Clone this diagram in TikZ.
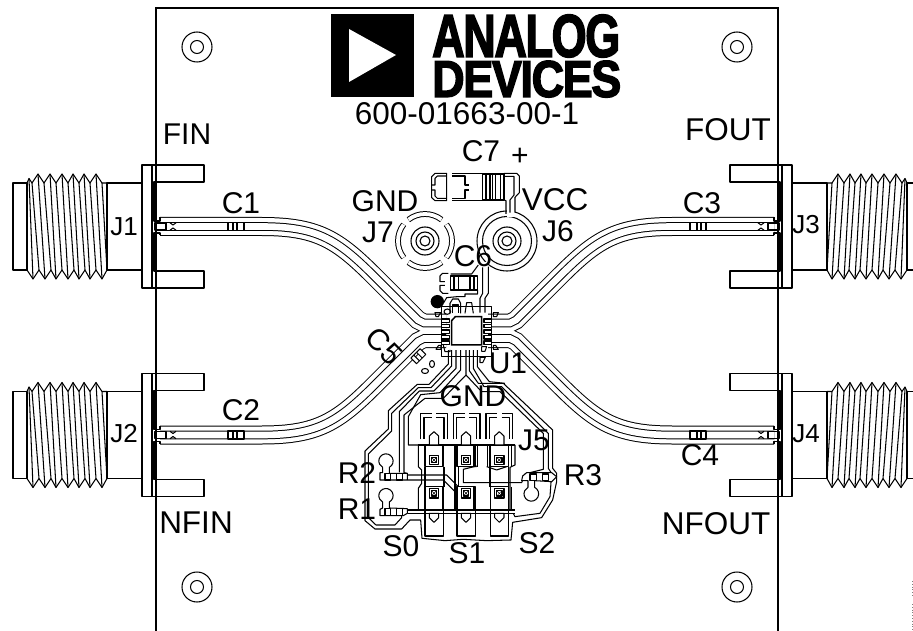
\documentclass[tikz,border=0pt]{standalone}
\usepackage{graphicx}
\usepackage{fontspec}
\usetikzlibrary{calc}
\setmainfont{Liberation Sans}
\newfontfamily\logofont[BoldFont={Liberation Sans Bold},BoldFeatures={FakeBold=3,LetterSpace=-3}]{Liberation Sans}
\tikzset{
  ln/.style={line width=1.05pt,black,line join=round},
  padln/.style={line width=1.6pt,black,line join=round},
  edgeln/.style={line width=1.3pt,black},
  lab/.style={font=\fontsize{30}{30}\selectfont,inner sep=0pt,black},
  labw/.style={font=\fontsize{31.5}{32}\selectfont,inner sep=0pt,black},
  labj/.style={font=\fontsize{26}{26}\selectfont,inner sep=0pt,black},
  zone/.style={x=0.3333pt,y=-0.3333pt},
}
\newcommand{\coax}{%
  \draw[ln] (13,-43.5) rectangle (27,43.5);
  \draw[ln] (107,-43.5) rectangle (142,43.5);
  \draw[ln] (27,-43.5)--(29,-48)--(32,-43.5)--(38,-52.5)--(44,-43.5)--(50,-52.5)--(56,-43.5)--(62,-52.5)--(68,-43.5)--(73,-52.5)--(79,-43.5)--(84,-52.5)--(90,-43.5)--(96,-52.5)--(102,-43.5)--(107,-43.5);
  \draw[ln] (27,43.5)--(33,52.5)--(39,43.5)--(45,52.5)--(51,43.5)--(56,52.5)--(62,43.5)--(68,52.5)--(74,43.5)--(79,52.5)--(85,43.5)--(90,52.5)--(96,43.5)--(102,52.5)--(107,43.5);
  \foreach \a/\b/\c/\d in {38/45/32/39,50/56/44/51,62/68/56/62,73/79/68/74,84/90/79/85,96/102/90/96}{
    \draw[ln] (\a,-52.5)--(\b,52.5);
    \draw[ln] (\c,-43.5)--(\d,43.5);
  }
  \draw[ln] (29,-48)--(33,52.5);
  \draw[ln] (102,-43.5)--(107,43.5);
  \draw[ln] (142,-61.5) rectangle (152,61.5);
  \draw[ln] (152,-61.5)--(204,-61.5)--(204,-44.5)--(154,-44.5)--(154,-5.5)--(160,-5.5)--(160,-9);
  \draw[ln] (152,61.5)--(204,61.5)--(204,44.5)--(154,44.5)--(154,6.5)--(160,6.5)--(160,9);
  \draw[ln] (155,-3.5) rectangle (166,3.5);
  \draw[ln] (228,-4) rectangle (233,4);
  \draw[ln] (237,-4) rectangle (244,4);
  \draw[ln] (233,-4)--(237,-4) (233,4)--(237,4);
  \draw[ln] (170,-3.7)--(173,-1.5)--(176,-3.7) (170,3.7)--(173,1.5)--(176,3.7);
}
\newcommand{\rfpath}[1]{%
  \draw[#1] (160,226.5)--(262,226.5) .. controls (318,226.5) and (338,240) .. (375,277)--(418,320)--(424,323)--(446,323);
  \draw[#1] (160,435)--(262,435) .. controls (318,435) and (338,421.5) .. (375,384.5)--(418,341.5)--(424,338.5)--(446,338.5);
  \draw[#1] (774,226.5)--(672,226.5) .. controls (616,226.5) and (596,240) .. (559,277)--(516,320)--(510,323)--(488,323);
  \draw[#1] (774,435)--(672,435) .. controls (616,435) and (596,421.5) .. (559,384.5)--(516,341.5)--(510,338.5)--(488,338.5);
}
\begin{document}
\begin{tikzpicture}[x=1pt,y=-1pt]
\useasboundingbox (0,0) rectangle (913,631);
\clip (0,0) rectangle (913,631);
% board
\draw[edgeln] (156,631)--(156,8)--(778,8)--(778,631);
% RF traces
\rfpath{line width=19pt,black}
\rfpath{line width=17pt,white}
\rfpath{line width=8.6pt,black}
\rfpath{line width=6.6pt,white}
% connectors
\begin{scope}[shift={(0,226.5)}]\coax\end{scope}
\begin{scope}[shift={(0,435)}]\coax\end{scope}
\begin{scope}[shift={(934,226.5)},xscale=-1]\coax\end{scope}
\begin{scope}[shift={(934,435)},xscale=-1]\coax\end{scope}
% mounting holes
\foreach \n/\x/\y in {ha/197/47,hb/737/47,hc/197/587,hd/737/587}{
  \coordinate (\n) at (\x,\y);
  \draw[ln] (\n) circle (15pt) (\n) circle (6.5pt);
}
% logo
\fill[black] (331,14) rectangle (414,97);
\fill[white] (349,29)--(396,55)--(349,82)--cycle;
\node[anchor=south west,inner sep=0pt] (logoa) at (432,57.5) {\resizebox{188pt}{42pt}{\logofont\bfseries ANALOG}};
\node[anchor=south west,inner sep=0pt] (logob) at (432,97.5) {\resizebox{189pt}{36pt}{\logofont\bfseries DEVICES}};
% J7 / J6
\coordinate (j7) at (425,241);
\coordinate (j6) at (507,241);
\foreach \a in {0,90,180,270}{
  \draw[line width=5.8pt,black] ($(j7)+(\a-38:27)$) arc[start angle=\a-38,end angle=\a+38,radius=27];
  \draw[line width=3.8pt,white] ($(j7)+(\a-37.5:27)$) arc[start angle=\a-37.5,end angle=\a+37.5,radius=27];
}
\draw[ln] (j6) circle (30pt) (j6) circle (24.5pt);
\foreach \c in {j6,j7}{\draw[line width=1.1pt] (\c) circle (14pt) (\c) circle (9pt) (\c) circle (5pt);}
% upper zone
\begin{scope}[shift={(330,130)},zone]
  \fill[white] (531,205) rectangle (554,262);
  \fill[white] (459,395) rectangle (474,425);
  \draw[ln] (350,130)--(315,130)--(305,140)--(305,203)--(315,212)--(350,212)--cycle;
  \draw[ln] (350,138)--(322,138)--(315,145)--(315,165)--(305,165);
  \draw[ln] (305,180)--(315,180)--(315,198)--(322,205)--(350,205);
  \draw[ln] (367,130)--(410,130) (367,138)--(405,138)--(405,165)--(417,165);
  \draw[ln] (367,212)--(410,212) (367,205)--(405,205)--(405,180)--(417,180);
  \draw[ln] (410,130)--(458,130) (410,212)--(458,212);
  \draw[ln] (458,132)rectangle(522,210);
  \foreach \x in {468,480,488,497,512}{\draw[ln] (\x,132)--(\x,210);}
  \draw[ln] (522,130)--(560,130)--(568,138)--(568,188)--(555,202)--(555,248);
  \draw[ln] (522,139)--(552,139)--(552,195)--(540,210)--(540,248);
  \draw[ln] (522,210)--(528,212)--(528,252);
  % C6
  \draw[ln] (355,430)--(338,430)--(330,438)--(330,455)--(345,455);
  \draw[ln] (345,466)--(330,466)--(330,482)--(338,490)--(355,490);
  \draw[ln] (362,438) rectangle (443,480);
  \foreach \x in {372,385,420,432}{\draw[ln] (\x,438)--(\x,480);}
  \draw[ln] (362,432)--(425,432)--(445,405);
  \draw[ln] (443,480)--(443,492)--(405,492)--(405,500)--(382,500)--(350,503)--(340,520);
  \draw[ln] (458,412)--(458,490)--(450,505)--(450,548);
  \draw[ln] (475,410)--(475,490)--(465,505)--(465,548);
  % dot
  \fill[black] (322,515) circle (20);
  % IC
  \draw[ln] (335,530) rectangle (485,680);
  \draw[line width=1.5pt] (365,572)--(376,560)--(455,560)--(455,645)--(365,645)--cycle;
  \foreach \y in {572,588,605,622,638}{
    \draw[ln,fill=white] (335,\y-5) rectangle (358,\y+5);
    \draw[ln,fill=white] (462,\y-5) rectangle (485,\y+5);
  }
  \draw[ln] (360,550)--(360,520)--(368,507)--(385,507)--(392,520)--(392,550);
  \draw[ln] (368,550)--(368,525)--(385,525)--(385,550);
  \draw[ln] (405,550)--(410,518)--(425,518)--(430,550);
  \draw[ln] (352,545) ellipse (10 and 8);
  \draw[ln] (315,548)--(332,548)--(325,560)--(318,560)--cycle;
  \draw[ln] (490,548)--(505,548)--(500,560)--(490,560)--cycle;
  \draw[ln] (318,658)--(333,658)--(333,646)--(326,646)--cycle;
  \draw[ln] (490,646)--(497,646)--(505,658)--(490,658)--cycle;
  \draw[ln] (455,650)--(470,650)--(465,664)--(455,664)--cycle;
  \draw[ln] (450,682)--(466,682)--(458,698)--(450,698)--cycle;
  \draw[ln] (340,645)--(345,665)--(360,665)--(360,660);
\end{scope}
% lower zone
\begin{scope}[shift={(330,350)},zone]
  \draw[ln] (355,0)--(355,42)--(297,103)--(262,103)--(175,182)--(175,237)--(105,303)--(105,512)--(135,537)--(215,537)--(240,510)--(272,510)--(276,565)--(345,572)--(400,568)--(470,572)--(543,570)--(548,517)--(635,503)--(668,450)--(680,395)--(680,370)--(668,355)--(668,240)--(520,100)--(445,100)--(418,62)--(418,0);
  \draw[ln] (365,0)--(365,48)--(303,113)--(265,113)--(185,190)--(185,243)--(115,312)--(115,503)--(138,525)--(195,525)--(215,503)--(215,497);
  \draw[ln] (378,0)--(378,55)--(312,123)--(268,123)--(208,185)--(208,367);
  \draw[ln] (392,0)--(392,60)--(330,128)--(272,134)--(235,200)--(235,285)--(265,285);
  \draw[ln] (408,0)--(408,75)--(340,145)--(285,145)--(222,195)--(222,368)--(232,370);
  \draw[ln] (408,75)--(455,125)--(510,125)--(640,250)--(640,358)--(600,368)--(585,372)--(575,398)--(400,398)--(400,358)--(440,348);
  \draw[ln] (430,0)--(430,55)--(462,110)--(515,110)--(655,250)--(655,355)--(665,370)--(660,440)--(630,490)--(555,500)--(550,490);
  \draw[ln] (442,0)--(442,50)--(478,95)--(525,100);
  \foreach \a/\b/\c/\d in {272/305/318/352,370/405/418/450,468/500/515/548}{
    \draw[ln] (\a,268)--(\a,190)--(\b,190) (\b,202)--({\a+10},202)--({\a+10},268);
    \draw[ln] (\d,268)--(\d,190)--(\c,190) (\c,202)--({\d-10},202)--({\d-10},268);
  }
  \draw[ln] (265,285)--(555,285);
  \draw[ln] (265,285)--(265,350)--(275,360)--(275,400)--(265,415)--(265,480);
  \draw[ln] (235,480)--(555,480) (235,490)--(555,490);
  \draw[ln] (232,375)--(350,375)--(385,410);
  \draw[ln] (232,390)--(340,390)--(375,425);
  \draw[ln] (345,285)--(375,285)--(375,480);
  \draw[ln] (555,285)--(555,345)--(540,352)--(540,480);
  \foreach \x in {312,408,508}{
    \draw[padln] (\x-27,285)--(\x-27,350)--(\x+27,350)--(\x+27,285);
    \draw[padln] (\x-27,480)--(\x-27,410)--(\x+27,410)--(\x+27,480);
    \draw[ln,fill=white] (\x-14,285)--(\x-14,258)--(\x,245)--(\x+14,258)--(\x+14,285)--cycle;
    \draw[ln] (\x-27,480)--(\x-27,558)--(\x+28,558)--(\x+28,480);
    \draw[ln,fill=white] (\x-14,490)--(\x-14,503)--(\x,517)--(\x+14,503)--(\x+14,490)--cycle;
    \foreach \y in {330,430}{
      \draw[ln] (\x-14,\y-14) rectangle (\x+14,\y+14);
      \draw[ln,fill=white] (\x-8,\y-8) rectangle (\x+8,\y+8);
      \draw[line width=0.5pt] (\x-8,\y-8)--(\x+8,\y+8) (\x+8,\y-8)--(\x-8,\y+8);
    }
  }
  \foreach \x in {432,442,472,480,545}{\draw[ln] (\x,285)--(\x,350);}
  \draw[ln] (432,410)--(432,480) (535,410)--(535,480) (545,410)--(545,480);
  \draw[ln] (400,350)--(440,350) (470,350)--(500,360)--(530,350);
  \draw[ln] (285,350)--(285,410) (342,350)--(342,410);
  \draw[ln] (385,350)--(385,410) (480,350)--(480,410) (535,350)--(535,410);
  \draw[ln,fill=white] (158,352)--(158,368)--(150,368)--(150,390)--(232,390)--(232,370)--(178,370)--(178,352) arc[start angle=62,end angle=-242,radius=21.5];
  \draw[ln,fill=white] (158,456)--(158,474)--(150,478)--(150,497)--(220,497)--(232,490)--(232,476)--(178,474)--(178,456) arc[start angle=62,end angle=-242,radius=21.5];
  \foreach \y in {370,476}{
    \draw[ln] (165,\y) rectangle (182,\y+20);
    \draw[ln] (200,\y) rectangle (218,\y+20);
  }
  \draw[ln,fill=white] (594,412)--(594,392)--(575,392)--(578,378)--(590,368)--(665,368)--(680,380)--(665,395)--(614,392)--(614,412) arc[start angle=-63,end angle=243,radius=22];
  \draw[ln] (600,372) rectangle (620,392) (637,372) rectangle (655,392);
\end{scope}
% C5
\begin{scope}[shift={(418,358)},rotate=45]
  \draw[ln,fill=white] (-5,-5) rectangle (-1,3);
  \draw[ln,fill=white] (3,-5) rectangle (8,3);
  \draw[ln] (-1,-5)--(3,-5) (-1,3)--(3,3);
\end{scope}
\draw[ln] (432,364) ellipse (2.5pt and 3.5pt);
\draw[ln] (425,371) ellipse (3.5pt and 2.5pt);
% labels
\node[labw] (tcode) at (467,114) {600-01663-00-1};
\node[lab] (tfin) at (187,134) {FIN};
\node[labw] (tfout) at (728,130) {FOUT};
\node[labw] (tnfin) at (196,523) {NFIN};
\node[labw] (tnfout) at (716,524) {NFOUT};
\node[labj] (tj1) at (124,227) {J1};
\node[labj] (tj2) at (124,434) {J2};
\node[labj] (tj3) at (806,225) {J3};
\node[labj] (tj4) at (806,434) {J4};
\node[lab] (tc1) at (241,203) {C1};
\node[lab] (tc2) at (241,410) {C2};
\node[lab] (tc3) at (702,203) {C3};
\node[lab] (tc4) at (700,455) {C4};
\node[lab] (tc7) at (481,151) {C7};
\node[lab] (tplus) at (520,157) {+};
\node[lab] (tgnd) at (385,201) {GND};
\node[labw] (tvcc) at (555,200) {VCC};
\node[lab] (tj7) at (378,232) {J7};
\node[lab] (tj6) at (558,231) {J6};
\node[lab] (tc6) at (473,256) {C6};
\node[lab,rotate=-45] (tc5) at (384,346) {C5};
\node[lab] (tu1) at (508,363) {U1};
\node[lab] (tgnd2) at (473,396) {GND};
\node[lab] (tj5) at (534,440) {J5};
\node[lab] (tr2) at (357,473) {R2};
\node[lab] (tr1) at (357,509) {R1};
\node[lab] (tr3) at (583,475) {R3};
\node[lab] (ts0) at (401,546) {S0};
\node[lab] (ts1) at (467,553) {S1};
\node[lab] (ts2) at (537,543) {S2};
\draw[gray,line width=0.8pt,dotted] (912,581)--(912,596) (912,604)--(912,631);
\end{tikzpicture}
\end{document}
